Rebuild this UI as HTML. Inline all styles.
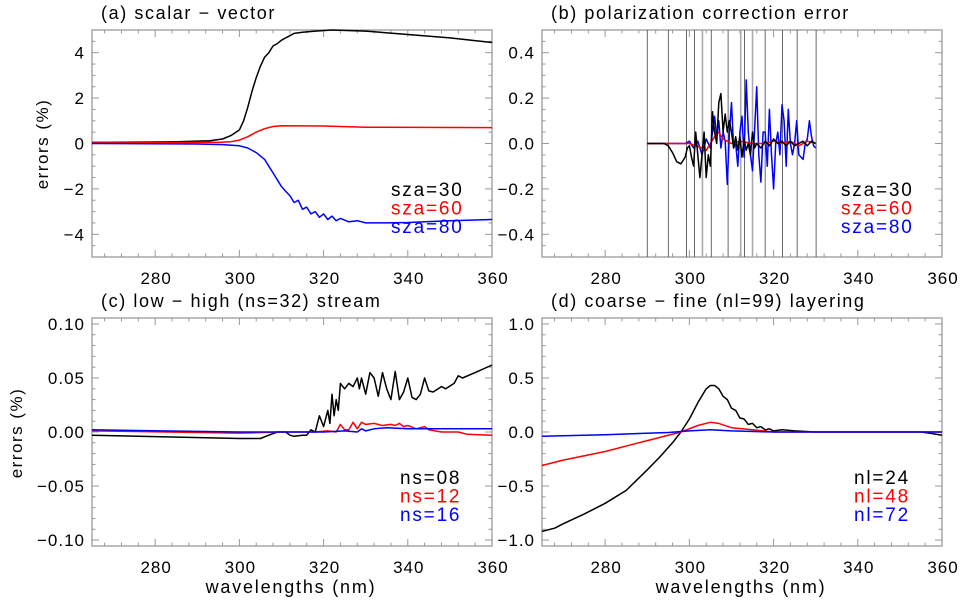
<!DOCTYPE html>
<html><head><meta charset="utf-8"><style>
html,body{margin:0;padding:0;background:#fff;}
svg{display:block;font-family:"Liberation Sans",sans-serif;}
</style></head><body>
<svg id="fig" width="962" height="600" viewBox="0 0 962 600" xmlns="http://www.w3.org/2000/svg"></svg>
<script>
// ---- Panel (a) data ----
const aBlackX=[265,285,293,296,298,300,301,302,303,304,305,306,307,308,309,310,311,312,313,315,318,322,330,340,350,360];
const aBlackY=[0.05,0.08,0.12,0.2,0.35,0.6,1.0,1.6,2.3,2.9,3.4,3.8,4.0,4.3,4.4,4.55,4.65,4.75,4.85,4.9,4.95,5.0,4.95,4.8,4.65,4.45];
const aRedX=[265,295,298,300,302,304,306,308,310,320,330,360];
const aRedY=[0.05,0.05,0.08,0.15,0.3,0.5,0.65,0.75,0.78,0.77,0.72,0.7];
const aBlueX=[265,290,296,300,302,304,306,307,308,309,310,311,312,313,314,315,316,317,318,319,320,321,322,323,324,326,328,330,335,340,350,360];
const aBlueY=[0.0,-0.02,-0.05,-0.1,-0.2,-0.4,-0.7,-1.0,-1.3,-1.6,-1.9,-2.1,-2.3,-2.6,-2.5,-2.9,-2.8,-3.1,-3.0,-3.25,-3.1,-3.35,-3.2,-3.4,-3.3,-3.45,-3.4,-3.5,-3.5,-3.48,-3.4,-3.35];
// ---- Panel (b) data ----
const bVLines=[290,295,299.3,301.2,305.2,309.2,313.1,318,322.1,325.6,330.1];
const bVLinesGray=[303.1,312.2,315];
const bBlackX=[290,294,295,296,297,298,299,299.5,300,300.5,301,301.5,302,302.5,303,303.5,304,304.5,305,305.5,306,306.5,307,307.5,308,308.5,309,309.5,310,310.5,311,311.5,312,312.5,313,313.5,314,314.5,315,315.5,316,317,318,319,320,321,322,323,324,325,326,327,328,329,330];
const bBlackY=[0,0,-0.01,-0.04,-0.08,-0.09,-0.06,-0.02,-0.01,-0.06,-0.1,0.05,-0.05,-0.15,-0.05,0.05,-0.15,-0.05,-0.1,0.14,0.05,0.0,0.18,0.22,0.05,0.13,0.05,0.1,0.05,-0.02,0.03,-0.03,0.03,-0.06,0.02,-0.03,0.0,-0.05,0.05,-0.02,0.0,-0.02,0.01,-0.01,0.02,0.0,0.01,-0.01,0.01,-0.01,0.0,0.01,-0.01,0.01,0.0];
const bRedX=[290,300,303,304,305,306,307,308,309,310,312,315,318,320,322,324,326,328,330];
const bRedY=[0,0,-0.02,-0.03,0,0.03,0.05,0.02,0.01,0,0.01,0,0,0.01,0,0.01,-0.01,0.01,0];
const bBlueX=[290,299,300,301,302,303,304,305,306,306.5,307,307.5,308,308.5,309,309.5,310,310.5,311,311.5,312,312.5,313,313.5,314,314.5,315,315.5,316,316.5,317,317.5,318,318.5,319,319.5,320,320.5,321,321.5,322,322.5,323,323.5,324,324.5,325,325.5,326,327,327.5,328,328.5,329,329.5,330];
const bBlueY=[0,0,0.01,-0.02,0.01,-0.05,0.02,-0.02,0.12,0.03,0.1,-0.02,0.05,0.01,-0.18,0.05,0.18,-0.02,0.0,-0.1,0.05,0.12,-0.06,0.28,0.05,-0.05,-0.12,0.06,0.25,-0.05,-0.17,0.05,0.05,-0.1,0.15,-0.05,-0.2,0.0,0.05,-0.05,0.17,0.1,-0.1,0.15,0.0,-0.05,0.0,0.1,-0.05,-0.07,0.0,0.02,0.1,0.03,-0.01,-0.02];
// ---- Panel (c) data ----
const cBlackX=[265,300,305,307,309,311,312,313,315,316,317,318,319,320,321,321.5,322,322.5,323,323.5,324,325,326,327,328,328.5,329,330,331,332,333,334,335,336,337,338,339,340,341,342,343,344,345,346,348,349,351,352,353,356,360];
const cBlackY=[-0.003,-0.006,-0.006,-0.003,0.0,0.0,-0.003,-0.004,-0.003,-0.003,0.002,0.0,0.015,0.005,0.02,0.008,0.035,0.015,0.03,0.02,0.045,0.04,0.045,0.042,0.05,0.04,0.05,0.035,0.055,0.05,0.033,0.055,0.04,0.03,0.056,0.03,0.037,0.05,0.032,0.03,0.035,0.05,0.038,0.037,0.042,0.04,0.045,0.052,0.05,0.055,0.062];
const cRedX=[265,300,310,318,321,323,324,325,326,327,328,329,330,332,334,336,337,338,339,340,342,344,345,348,352,354,360];
const cRedY=[0.001,-0.001,0.0,0.0,0.001,0.0,0.007,0.002,0.002,0.009,0.003,0.009,0.007,0.008,0.006,0.007,0.006,0.008,0.005,0.006,0.003,0.005,0.002,0.0,0.0,-0.002,-0.003];
const cBlueX=[265,300,320,325,328,329,330,332,335,340,345,360];
const cBlueY=[0.002,0.0,0.0,0.001,0.0,0.003,0.001,0.003,0.004,0.003,0.003,0.003];
// ---- Panel (d) data ----
const dBlackX=[265,268,270,275,280,285,290,293,296,298,300,302,304,305,306,307,308,309,310,311,312,313,314,315,316,317,318,319,320,322,325,330,340,355,357,360];
const dBlackY=[-0.92,-0.89,-0.85,-0.76,-0.66,-0.54,-0.35,-0.23,-0.1,0.0,0.12,0.27,0.4,0.43,0.43,0.4,0.33,0.3,0.22,0.2,0.13,0.12,0.07,0.08,0.04,0.05,0.02,0.03,0.01,0.02,0.01,0.0,0.0,0.0,-0.01,-0.03];
const dRedX=[265,270,280,290,298,302,305,307,310,315,320,360];
const dRedY=[-0.31,-0.26,-0.18,-0.08,0.0,0.06,0.09,0.08,0.04,0.02,0.0,0.0];
const dBlueX=[265,280,295,300,305,310,320,360];
const dBlueY=[-0.04,-0.025,-0.005,0.01,0.02,0.01,0.0,0.0];
// ---- tick labels ----
const xTicks=[280,300,320,340,360];
const aYTicks=[-4,-2,0,2,4];
const bYTicks=[-0.4,-0.2,0.0,0.2,0.4];
const cYTicks=[-0.10,-0.05,0.00,0.05,0.10];
const dYTicks=[-1.0,-0.5,0.0,0.5,1.0];

const NS="http://www.w3.org/2000/svg";
const svg=document.getElementById('fig');
function mk(tag,attrs,parent){const e=document.createElementNS(NS,tag);for(const k in attrs)e.setAttribute(k,attrs[k]);(parent||svg).appendChild(e);return e;}

function panel(o){
  const g=mk('g',{});
  
  
  const X0=265,X1=360;
  const sx=v=>o.x0+(v-X0)/(X1-X0)*(o.x1-o.x0);
  const sy=v=>o.y1-(v-o.ymin)/(o.ymax-o.ymin)*(o.y1-o.y0);
  const t=mk('text',{x:o.x0+9,y:o.y0-11,'font-size':18,'letter-spacing':1.6,fill:'#000'},g);
  t.textContent=o.title;
  
  
  for(let v=268;v<=360;v+=4){
    const major=(v%20===0);const L=major?7:3.5;
    const px=sx(v);
    mk('line',{x1:px,x2:px,y1:o.y1,y2:o.y1-L,stroke:'#999','stroke-width':1},g);
    mk('line',{x1:px,x2:px,y1:o.y0,y2:o.y0+L,stroke:'#999','stroke-width':1},g);
  }
  const nMinor=Math.round((o.ymax-o.ymin)/o.minor);
  for(let i=-nMinor;i<=nMinor;i++){
    const v=i*o.minor; if(v<o.ymin-1e-9||v>o.ymax+1e-9)continue;
    const major=Math.abs(v/o.major-Math.round(v/o.major))<1e-6;const L=major?7:3.5;
    const py=sy(v);
    mk('line',{x1:o.x0,x2:o.x0+L,y1:py,y2:py,stroke:'#999','stroke-width':1},g);
    mk('line',{x1:o.x1,x2:o.x1-L,y1:py,y2:py,stroke:'#999','stroke-width':1},g);
  }
  const f=mk('rect',{x:o.x0,y:o.y0,width:o.x1-o.x0,height:o.y1-o.y0,fill:'none',stroke:'#999','stroke-width':1.3},g);
  
  
  xTicks.forEach(v=>{
    const l=mk('text',{x:sx(v)+1,y:o.y1+27,'font-size':17,'letter-spacing':1,'text-anchor':'middle',fill:'#000'},g);
    l.textContent=String(v);
    
    
  });
  o.yTicks.forEach(v=>{
    const l=mk('text',{x:o.x0-7,y:sy(v)+6,'font-size':17,'letter-spacing':1,'text-anchor':'end',fill:'#000'},g);
    l.textContent=(v<0?'\u2212':'')+Math.abs(v).toFixed(o.dec);
    
    
  });
  (o.vlines||[]).forEach(v=>{
    const l=mk('line',{x1:sx(v),x2:sx(v),y1:o.y0,y2:o.y1,stroke:'#444','stroke-width':0.8},g);
    
    
  });
  (o.vlinesGray||[]).forEach(v=>{
    const l=mk('line',{x1:sx(v),x2:sx(v),y1:o.y0,y2:o.y1,stroke:'#aaa','stroke-width':1.6},g);
    
    
  });
  o.series.forEach(s=>{
    const d=s.x.map((v,i)=>(i?'L':'M')+sx(v).toFixed(1)+','+sy(s.y[i]).toFixed(1)).join('');
    const p=mk('path',{d:d,fill:'none',stroke:s.c,'stroke-width':1.5,'stroke-linejoin':'round'},g);
    
    
  });
  o.legend.forEach((s,i)=>{
    const l=mk('text',{x:o.lx,y:o.ly+i*18.5,'font-size':19,'letter-spacing':1.8,fill:s[1]},g);
    l.textContent=s[0];
    
    
  });
}

panel({name:'panel-a',title:'(a) scalar \u2212 vector',x0:92,x1:492,y0:30,y1:257,ymin:-5,ymax:5,minor:0.5,major:2,yTicks:aYTicks,dec:0,
  series:[{x:aBlackX,y:aBlackY,c:'#000',n:'series-sza30'},{x:aRedX,y:aRedY,c:'#f00',n:'series-sza60'},{x:aBlueX,y:aBlueY,c:'#00f',n:'series-sza80'}],
  legend:[['sza=30','#000'],['sza=60','#f00'],['sza=80','#00f']],lx:391,ly:196});
panel({name:'panel-b',title:'(b) polarization correction error',x0:542,x1:942,y0:30,y1:257,ymin:-0.5,ymax:0.5,minor:0.05,major:0.2,yTicks:bYTicks,dec:1,
  vlines:bVLines,vlinesGray:bVLinesGray,
  series:[{x:bBlueX,y:bBlueY,c:'#00f',n:'series-sza80'},{x:bRedX,y:bRedY,c:'#f00',n:'series-sza60'},{x:bBlackX,y:bBlackY,c:'#000',n:'series-sza30'}],
  legend:[['sza=30','#000'],['sza=60','#f00'],['sza=80','#00f']],lx:841,ly:196});
panel({name:'panel-c',title:'(c) low \u2212 high (ns=32) stream',x0:92,x1:492,y0:318,y1:546,ymin:-0.1055,ymax:0.1055,minor:0.01,major:0.05,yTicks:cYTicks,dec:2,
  series:[{x:cBlackX,y:cBlackY,c:'#000',n:'series-ns08'},{x:cRedX,y:cRedY,c:'#f00',n:'series-ns12'},{x:cBlueX,y:cBlueY,c:'#00f',n:'series-ns16'}],
  legend:[['ns=08','#000'],['ns=12','#f00'],['ns=16','#00f']],lx:400,ly:484});
panel({name:'panel-d',title:'(d) coarse \u2212 fine (nl=99) layering',x0:542,x1:942,y0:318,y1:546,ymin:-1.055,ymax:1.055,minor:0.1,major:0.5,yTicks:dYTicks,dec:1,
  series:[{x:dBlackX,y:dBlackY,c:'#000',n:'series-nl24'},{x:dRedX,y:dRedY,c:'#f00',n:'series-nl48'},{x:dBlueX,y:dBlueY,c:'#00f',n:'series-nl72'}],
  legend:[['nl=24','#000'],['nl=48','#f00'],['nl=72','#00f']],lx:854,ly:484});

[[42,144,'y-axis-title-a'],[16,433,'y-axis-title-c']].forEach(a=>{
  const t=mk('text',{x:a[0],y:a[1],'font-size':17,'letter-spacing':1.5,'text-anchor':'middle',transform:`rotate(-90 ${a[0]} ${a[1]})`,dy:6,fill:'#000'});
  t.textContent='errors (%)';
  
  
});
[[291,'x-axis-title-c'],[741,'x-axis-title-d']].forEach(a=>{
  const t=mk('text',{x:a[0],y:593,'font-size':18,'letter-spacing':1.8,'text-anchor':'middle',fill:'#000'});
  t.textContent='wavelengths (nm)';
  
  
});
</script>
</body></html>
